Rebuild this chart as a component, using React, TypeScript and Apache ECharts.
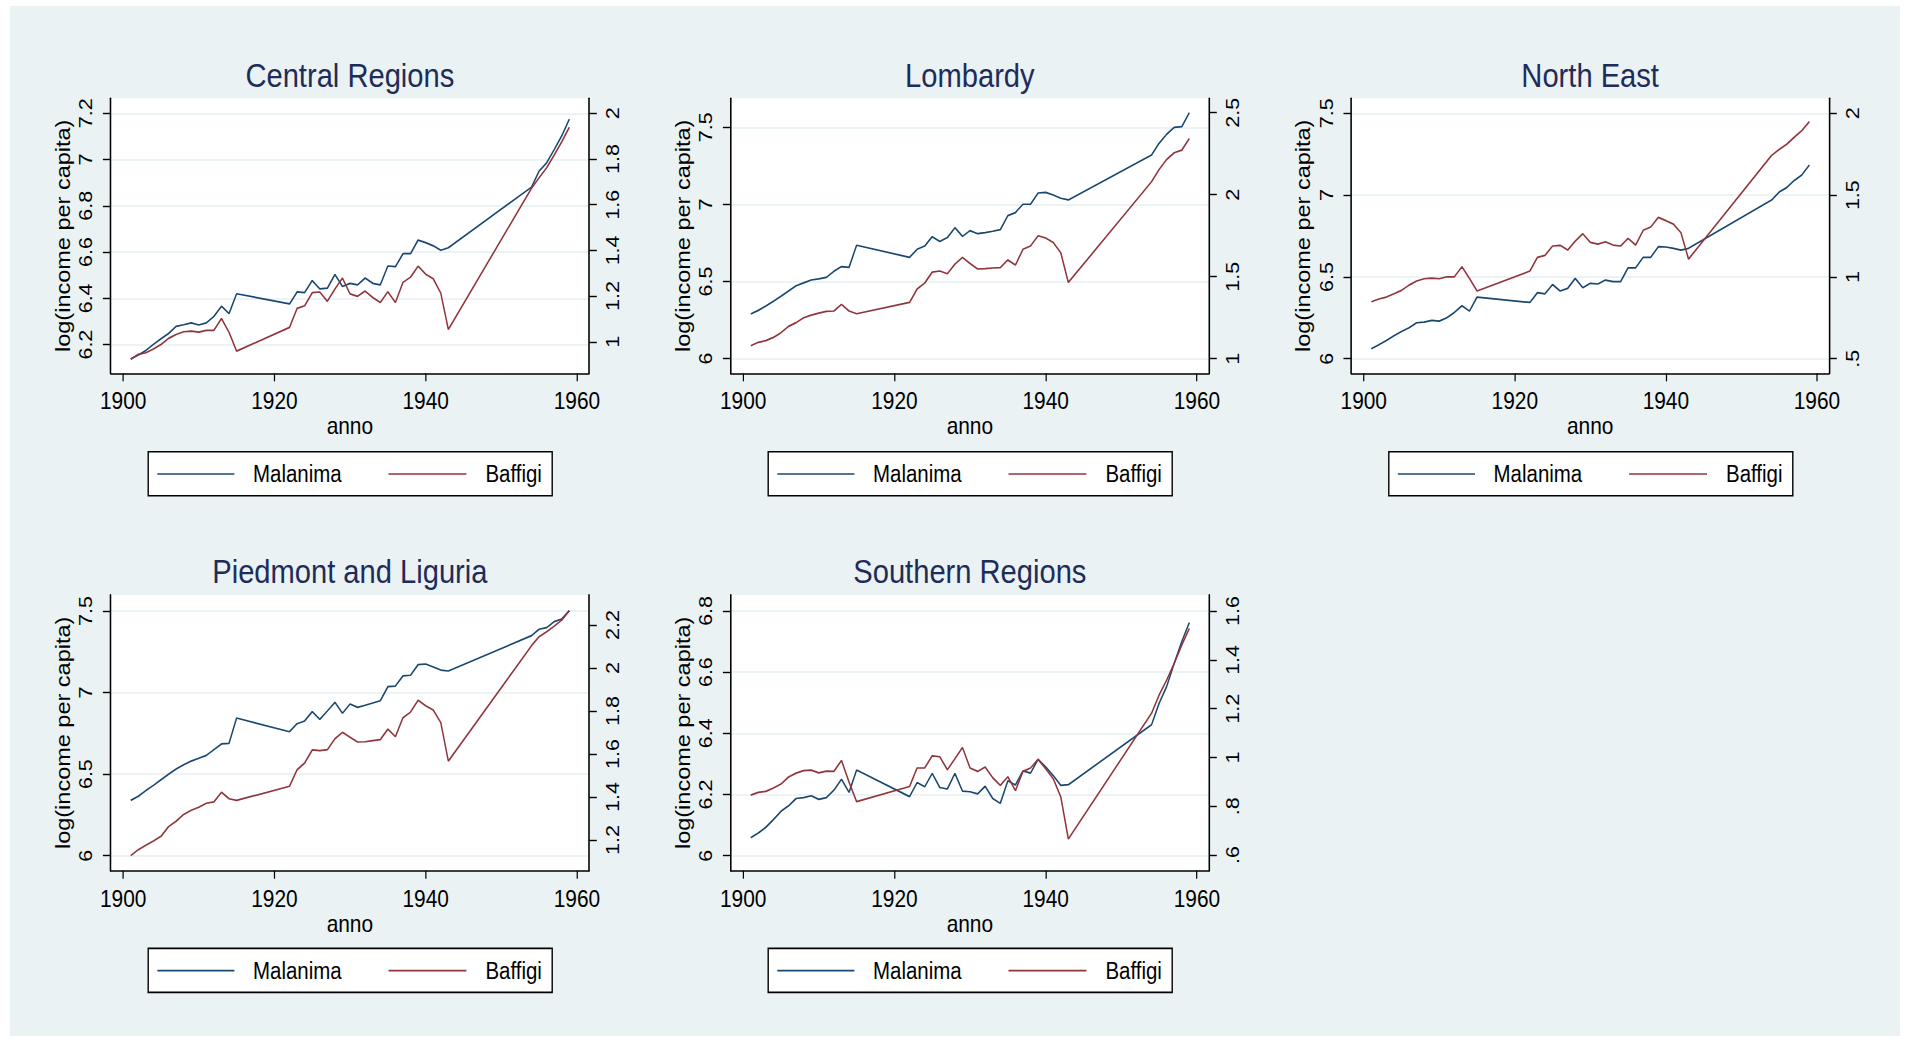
import React, { useEffect, useRef } from "react";
import * as echarts from "echarts";

// ---------- data ----------
const years = [
  1901, 1902, 1903, 1904, 1905, 1906, 1907, 1908, 1909, 1910, 1911, 1912, 1913, 1914, 1915,
  1922, 1923, 1924, 1925, 1926, 1927, 1928, 1929, 1930, 1931, 1932, 1933, 1934, 1935, 1936,
  1937, 1938, 1939, 1940, 1941, 1942, 1943,
  1954, 1955, 1956, 1957, 1958, 1959,
];

const centralMalanima = [6.138, 6.155, 6.175, 6.201, 6.225, 6.248, 6.279, 6.286, 6.294, 6.285, 6.294, 6.322, 6.366, 6.334, 6.42,
  6.376, 6.428, 6.425, 6.477, 6.441, 6.444, 6.503, 6.451, 6.465, 6.458, 6.488, 6.465, 6.458, 6.54, 6.537, 6.593, 6.593, 6.652, 6.641, 6.627, 6.608, 6.619,
  6.881, 6.95, 6.986, 7.043, 7.103, 7.175];
const centralBaffigi = [0.924, 0.945, 0.952, 0.968, 0.988, 1.015, 1.032, 1.044, 1.047, 1.042, 1.05, 1.05, 1.102, 1.041, 0.959,
  1.063, 1.146, 1.158, 1.215, 1.218, 1.177, 1.231, 1.279, 1.21, 1.199, 1.222, 1.194, 1.172, 1.219, 1.172, 1.26, 1.283, 1.331, 1.296, 1.276, 1.213, 1.054,
  1.672, 1.718, 1.762, 1.818, 1.876, 1.939];

const lombardyMalanima = [6.29, 6.313, 6.341, 6.372, 6.404, 6.439, 6.473, 6.491, 6.51, 6.517, 6.527, 6.566, 6.597, 6.592, 6.735,
  6.657, 6.709, 6.73, 6.791, 6.759, 6.785, 6.849, 6.793, 6.83, 6.81, 6.817, 6.826, 6.836, 6.927, 6.947, 7.001, 7.001, 7.074, 7.078, 7.061, 7.04, 7.029,
  7.321, 7.396, 7.455, 7.5, 7.504, 7.595];
const lombardyBaffigi = [1.079, 1.1, 1.11, 1.13, 1.159, 1.197, 1.22, 1.25, 1.266, 1.278, 1.289, 1.291, 1.331, 1.291, 1.274,
  1.343, 1.425, 1.461, 1.528, 1.535, 1.518, 1.577, 1.618, 1.581, 1.547, 1.549, 1.553, 1.555, 1.602, 1.571, 1.667, 1.687, 1.75, 1.736, 1.709, 1.646, 1.465,
  2.079, 2.154, 2.215, 2.256, 2.272, 2.343];

const northEastMalanima = [6.061, 6.086, 6.112, 6.141, 6.167, 6.19, 6.22, 6.224, 6.234, 6.23, 6.251, 6.283, 6.324, 6.291, 6.377,
  6.344, 6.404, 6.397, 6.454, 6.414, 6.43, 6.491, 6.434, 6.461, 6.457, 6.481, 6.471, 6.471, 6.556, 6.556, 6.62, 6.62, 6.685, 6.683, 6.675, 6.664, 6.675,
  6.97, 7.019, 7.046, 7.09, 7.123, 7.184];
const northEastBaffigi = [0.848, 0.865, 0.877, 0.897, 0.918, 0.95, 0.975, 0.989, 0.993, 0.989, 1.001, 1.001, 1.062, 0.991, 0.914,
  1.036, 1.12, 1.132, 1.189, 1.193, 1.164, 1.219, 1.264, 1.211, 1.201, 1.215, 1.195, 1.189, 1.236, 1.195, 1.285, 1.305, 1.364, 1.344, 1.323, 1.27, 1.109,
  1.743, 1.779, 1.811, 1.854, 1.894, 1.949];

const piedmontMalanima = [6.339, 6.364, 6.399, 6.431, 6.466, 6.499, 6.531, 6.558, 6.58, 6.597, 6.615, 6.65, 6.685, 6.689, 6.844,
  6.76, 6.809, 6.826, 6.883, 6.836, 6.887, 6.94, 6.873, 6.93, 6.909, 6.922, 6.936, 6.95, 7.036, 7.04, 7.102, 7.106, 7.171, 7.175, 7.157, 7.138, 7.132,
  7.349, 7.388, 7.398, 7.435, 7.451, 7.502];
const piedmontBaffigi = [1.127, 1.155, 1.175, 1.195, 1.217, 1.262, 1.287, 1.319, 1.338, 1.352, 1.371, 1.377, 1.422, 1.392, 1.384,
  1.45, 1.527, 1.558, 1.619, 1.616, 1.62, 1.671, 1.701, 1.678, 1.656, 1.657, 1.662, 1.667, 1.716, 1.681, 1.769, 1.795, 1.85, 1.825, 1.805, 1.746, 1.567,
  2.104, 2.146, 2.169, 2.195, 2.223, 2.267];

const southernMalanima = [6.059, 6.074, 6.093, 6.118, 6.145, 6.163, 6.187, 6.19, 6.196, 6.184, 6.19, 6.214, 6.25, 6.207, 6.28,
  6.193, 6.239, 6.225, 6.269, 6.223, 6.218, 6.269, 6.211, 6.209, 6.202, 6.227, 6.187, 6.171, 6.245, 6.231, 6.277, 6.27, 6.315, 6.29, 6.262, 6.23, 6.232,
  6.428, 6.498, 6.553, 6.629, 6.7, 6.762];
const southernBaffigi = [0.846, 0.857, 0.861, 0.875, 0.891, 0.92, 0.936, 0.946, 0.948, 0.937, 0.944, 0.943, 0.988, 0.899, 0.819,
  0.881, 0.957, 0.957, 1.007, 1.003, 0.95, 0.995, 1.041, 0.957, 0.943, 0.961, 0.917, 0.886, 0.921, 0.864, 0.943, 0.957, 0.992, 0.954, 0.913, 0.839, 0.666,
  1.181, 1.256, 1.317, 1.386, 1.461, 1.529];

// tick labels
const xTicks = [1900, 1920, 1940, 1960];
const centralLeftTicks = [6.2, 6.4, 6.6, 6.8, 7, 7.2];
const centralRightTicks = [1, 1.2, 1.4, 1.6, 1.8, 2];
const lombardyLeftTicks = [6, 6.5, 7, 7.5];
const lombardyRightTicks = [1, 1.5, 2, 2.5];
const northEastLeftTicks = [6, 6.5, 7, 7.5];
const northEastRightTicks = [0.5, 1, 1.5, 2];
const piedmontLeftTicks = [6, 6.5, 7, 7.5];
const piedmontRightTicks = [1.2, 1.4, 1.6, 1.8, 2, 2.2];
const southernLeftTicks = [6, 6.2, 6.4, 6.6, 6.8];
const southernRightTicks = [0.6, 0.8, 1, 1.2, 1.4, 1.6];

const titles = ["Central Regions", "Lombardy", "North East", "Piedmont and Liguria", "Southern Regions"];
const seriesNames = ["Malanima", "Baffigi"];
const xName = "anno";
const yName = "log(income per capita)";

// ---------- layout / style ----------
// The original graph is horizontally compressed; draw wider and squeeze with CSS.
const S = 0.87;
const W = 1910 / S;
const FONT = "'Liberation Sans', Arial, sans-serif";
const BLUE = "#1a476f";
const RED = "#90353b";
const TITLE = "#1e2c5a";
const GRID = "#e6eff1";

// positions in screen pixels (x later divided by S)
const panels = [
  { left: 110.7, top: 98.3, width: 478.3, height: 275, lRange: [6.076, 7.265], rRange: [0.862, 2.066], lTicks: centralLeftTicks, rTicks: centralRightTicks, mal: centralMalanima, baf: centralBaffigi },
  { left: 730.7, top: 98.3, width: 478.3, height: 275, lRange: [5.905, 7.688], rRange: [0.911, 2.588], lTicks: lombardyLeftTicks, rTicks: lombardyRightTicks, mal: lombardyMalanima, baf: lombardyBaffigi },
  { left: 1351.3, top: 98.3, width: 477.7, height: 275, lRange: [5.911, 7.592], rRange: [0.411, 2.092], lTicks: northEastLeftTicks, rTicks: northEastRightTicks, mal: northEastMalanima, baf: northEastBaffigi },
  { left: 110.7, top: 595, width: 478.3, height: 275.7, lRange: [5.908, 7.598], rRange: [1.057, 2.34], lTicks: piedmontLeftTicks, rTicks: piedmontRightTicks, mal: piedmontMalanima, baf: piedmontBaffigi },
  { left: 730.7, top: 595, width: 478.3, height: 275.7, lRange: [5.951, 6.852], rRange: [0.536, 1.666], lTicks: southernLeftTicks, rTicks: southernRightTicks, mal: southernMalanima, baf: southernBaffigi },
];

const fmt = (v: number) => {
  let s = String(Math.round(v * 100) / 100);
  if (s.startsWith("0.")) s = s.slice(1);
  return s;
};

function buildOption() {
  const grid: any[] = [];
  const xAxis: any[] = [];
  const yAxis: any[] = [];
  const series: any[] = [];
  const graphic: any[] = [];

  panels.forEach((p, i) => {
    const gl = p.left / S;
    const gw = p.width / S;
    grid.push({ left: gl, top: p.top, width: gw, height: p.height, show: true, backgroundColor: "#ffffff", borderWidth: 0 });
    xAxis.push({
      type: "value", gridIndex: i, min: 1898.35, max: 1961.6,
      name: xName, nameLocation: "middle", nameGap: 40,
      nameTextStyle: { fontFamily: FONT, fontSize: 24, color: "#000" },
      axisLine: { show: true, onZero: false, lineStyle: { color: "#000", width: 1.5 } },
      axisTick: { show: true, length: 8, customValues: xTicks, lineStyle: { color: "#000", width: 1.4 } },
      axisLabel: { show: true, customValues: xTicks, margin: 16, fontFamily: FONT, fontSize: 24, color: "#000", formatter: (v: number) => String(v) },
      splitLine: { show: false },
    });
    yAxis.push({
      type: "value", gridIndex: i, position: "left", min: p.lRange[0], max: p.lRange[1],
      name: yName, nameLocation: "middle", nameRotate: 90, nameGap: 43,
      nameTextStyle: { fontFamily: FONT, fontSize: 23.5, color: "#000" },
      axisLine: { show: true, onZero: false, lineStyle: { color: "#000", width: 1.8 } },
      axisTick: { show: true, length: 9, customValues: p.lTicks, lineStyle: { color: "#000", width: 1.4 } },
      axisLabel: { show: true, customValues: p.lTicks, rotate: 90, margin: 18, fontFamily: FONT, fontSize: 21.5, color: "#000", formatter: fmt },
      splitLine: { show: true, lineStyle: { color: GRID, width: 1.5 } },
    });
    yAxis.push({
      type: "value", gridIndex: i, position: "right", min: p.rRange[0], max: p.rRange[1],
      axisLine: { show: true, onZero: false, lineStyle: { color: "#000", width: 1.8 } },
      axisTick: { show: true, length: 9, customValues: p.rTicks, lineStyle: { color: "#000", width: 1.4 } },
      axisLabel: { show: true, customValues: p.rTicks, rotate: 90, margin: 16, fontFamily: FONT, fontSize: 21.5, color: "#000", formatter: fmt },
      splitLine: { show: false },
    });
    series.push({
      type: "line", name: seriesNames[0], xAxisIndex: i, yAxisIndex: 2 * i,
      data: years.map((y, k) => [y, p.mal[k]]), showSymbol: false, symbol: "none",
      lineStyle: { color: BLUE, width: 1.7 }, itemStyle: { color: BLUE }, z: 3,
    });
    series.push({
      type: "line", name: seriesNames[1], xAxisIndex: i, yAxisIndex: 2 * i + 1,
      data: years.map((y, k) => [y, p.baf[k]]), showSymbol: false, symbol: "none",
      lineStyle: { color: RED, width: 1.7 }, itemStyle: { color: RED }, z: 4,
    });

    // title
    graphic.push({
      type: "text", x: gl + gw / 2, y: p.top - 23,
      style: { text: titles[i], fontFamily: FONT, fontSize: 33.5, fill: TITLE, align: "center", verticalAlign: "middle" },
    });
    // legend
    const bx = (p.left + 37.5) / S;
    const by = p.top + 353.4;
    const cy = by + 22.3;
    graphic.push({ type: "rect", shape: { x: bx, y: by, width: 404 / S, height: 44 }, style: { fill: "#ffffff", stroke: "#000", lineWidth: 1.6 } });
    graphic.push({ type: "line", shape: { x1: bx + 9.1 / S, y1: cy, x2: bx + 86.2 / S, y2: cy }, style: { stroke: BLUE, lineWidth: 1.7 } });
    graphic.push({ type: "text", x: bx + 104.8 / S, y: cy, style: { text: seriesNames[0], fontFamily: FONT, fontSize: 23.5, fill: "#000", align: "left", verticalAlign: "middle" } });
    graphic.push({ type: "line", shape: { x1: bx + 240.3 / S, y1: cy, x2: bx + 318.2 / S, y2: cy }, style: { stroke: RED, lineWidth: 1.7 } });
    graphic.push({ type: "text", x: bx + 337.2 / S, y: cy, style: { text: seriesNames[1], fontFamily: FONT, fontSize: 23.5, fill: "#000", align: "left", verticalAlign: "middle" } });
  });

  return {
    animation: false,
    backgroundColor: "transparent",
    grid, xAxis, yAxis, series, graphic,
  };
}

export default function App() {
  const ref = useRef<HTMLDivElement>(null);
  useEffect(() => {
    const chart = echarts.init(ref.current!, null, { renderer: "svg" });
    chart.setOption(buildOption() as any);
    return () => chart.dispose();
  }, []);
  return (
    <div style={{ position: "absolute", left: 0, top: 0, width: 1910, height: 1044, background: "#ffffff", overflow: "hidden" }}>
      <div style={{ position: "absolute", left: 10, top: 6, width: 1890, height: 1030, background: "#eaf2f3" }} />
      <div
        ref={ref}
        style={{ position: "absolute", left: 0, top: 0, width: W, height: 1044, transform: `scaleX(${S})`, transformOrigin: "0 0" }}
      />
    </div>
  );
}
